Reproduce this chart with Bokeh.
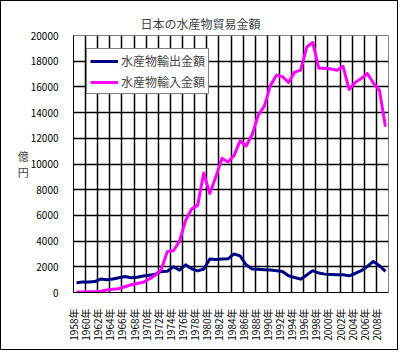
import math
from bokeh.plotting import figure
from bokeh.models import Range1d, FixedTicker, Legend, LegendItem
from bokeh.embed import file_html
from bokeh.resources import INLINE

years = list(range(1958, 2010))
exports = [760, 810, 810, 850, 1050, 1000, 1050, 1150, 1250, 1150,
           1180, 1280, 1350, 1430, 1640, 1660, 2000, 1740, 2150, 1850,
           1680, 1830, 2600, 2560, 2600, 2620, 3000, 2850, 2160, 1820,
           1800, 1780, 1750, 1700, 1640, 1300, 1170, 1040, 1360, 1700,
           1510, 1430, 1400, 1380, 1380, 1300, 1480, 1700, 2030, 2420,
           2090, 1640]
imports = [40, 40, 50, 60, 100, 200, 260, 300, 450, 600,
           700, 800, 1050, 1350, 1800, 3200, 3250, 4000, 5600, 6500,
           6800, 9300, 7700, 9000, 10450, 10150, 10650, 11800, 11400, 12300,
           13800, 14500, 16100, 16900, 16800, 16350, 17150, 17300, 19100, 19450,
           17450, 17450, 17400, 17300, 17600, 15800, 16350, 16650, 17050, 16300,
           15750, 12900]
label_years = list(range(1958, 2009, 2))
tick_labels = [f"{y}年" for y in label_years]
y_ticks = list(range(0, 20001, 2000))
series_names = ["水産物輸出金額", "水産物輸入金額"]
title_text = "日本の水産物貿易金額"
unit_text = "億\n円"

FONT = "Noto Sans CJK JP"

p = figure(width=398, height=350, output_backend="svg", toolbar_location=None,
           x_range=Range1d(years[0] - 0.5, years[-1] + 0.5),
           y_range=Range1d(0, 20000),
           min_border_left=72, min_border_right=11, min_border_top=34,
           min_border_bottom=59)
p.styles = {"border": "1px solid black"}
p.background_fill_color = "white"
p.border_fill_color = "white"
p.outline_line_color = "#808080"
p.outline_line_width = 1

p.title.text = title_text
p.title.align = "left"
p.title.offset = 67
p.title.standoff = 8
p.title.text_font = FONT
p.title.text_font_size = "12px"
p.title.text_font_style = "normal"

xt = [y - 0.5 for y in label_years]
p.xaxis.ticker = FixedTicker(ticks=xt)
p.xaxis.major_label_overrides = {t: s for t, s in zip(xt, tick_labels)}
p.xaxis.major_label_orientation = math.pi / 2
p.yaxis.ticker = FixedTicker(ticks=y_ticks)
for ax in (p.xaxis[0], p.yaxis[0]):
    ax.axis_line_color = "black"
    ax.axis_line_width = 1
    ax.major_tick_line_color = None
    ax.minor_tick_line_color = None
    ax.major_label_text_font = FONT
    ax.major_label_text_font_size = "10px"
    ax.major_label_text_color = "black"
    ax.major_label_standoff = 9
p.xaxis[0].major_label_standoff = 10

ya = p.yaxis[0]
ya.axis_label = unit_text
ya.axis_label_text_font = FONT
ya.axis_label_text_font_size = "11px"
ya.axis_label_text_font_style = "normal"
ya.axis_label_text_line_height = 1.0
ya.axis_label_standoff = -1
if "axis_label_orientation" in ya.properties():
    ya.axis_label_orientation = "horizontal"

p.xgrid.ticker = FixedTicker(ticks=xt)
p.ygrid.ticker = FixedTicker(ticks=y_ticks)
for g in (p.xgrid[0], p.ygrid[0]):
    g.grid_line_color = "black"
    g.grid_line_width = 1.5

r1 = p.line(years, exports, line_color="#000080", line_width=3, line_join="round")
r2 = p.line(years, imports, line_color="#FF00FF", line_width=3, line_join="round")

legend = Legend(items=[LegendItem(label=series_names[0], renderers=[r1]),
                       LegendItem(label=series_names[1], renderers=[r2])],
                location=(13, 198), margin=0, padding=3, spacing=4,
                label_height=14, glyph_height=14, glyph_width=28,
                label_standoff=3, label_text_font=FONT,
                label_text_font_size="12px",
                border_line_color="black", border_line_width=1,
                background_fill_color="white", background_fill_alpha=1)
p.add_layout(legend, "center")

open("out.html", "w").write(file_html(p, INLINE))
